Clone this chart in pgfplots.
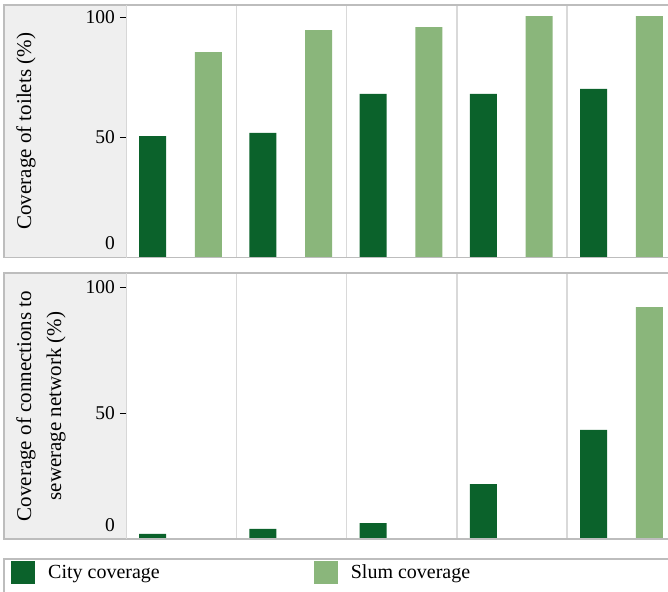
\documentclass[border=0pt]{standalone}
\usepackage{fontspec}
\setmainfont{Liberation Serif}
\usepackage{pgfplots}
\pgfplotsset{compat=1.18}
\definecolor{city}{HTML}{0B622B}
\definecolor{slum}{HTML}{8AB67B}
\definecolor{panel}{HTML}{EFEFEF}
\definecolor{framec}{HTML}{BDBDBD}
\definecolor{sepc}{HTML}{D9D9D9}
\pgfplotsset{
  sq legend/.style={legend image code/.code={\fill[##1] (0bp,-11.5bp) rectangle (24bp,11.5bp);}},
  panelaxis/.style={
    scale only axis, width=551.25bp, xmin=0, xmax=5, ymin=0,
    axis line style={draw=none},
    xtick={1,2,3,4}, xticklabels={}, xmajorgrids,
    major x grid style={sepc, line width=1.5bp},
    x tick style={draw=none},
    ytick={50,100}, extra y ticks={0},
    extra y tick style={yticklabel style={yshift=14bp}, tick style={framec, line width=1.5bp}},
    tick align=outside, major tick length=6bp,
    y tick style={black, line width=0.8bp},
    yticklabel style={font=\fontsize{19.5bp}{22bp}\selectfont, inner sep=0pt, xshift=-5bp},
    /pgf/number format/assume math mode=true,
    ylabel style={font=\fontsize{21bp}{30bp}\selectfont, anchor=center, align=center},
  }
}
\begin{document}
\begin{tikzpicture}[x=1bp,y=1bp]
\path[use as bounding box] (0bp,0bp) rectangle (668bp,-592bp);
\clip (0bp,0bp) rectangle (668bp,-592bp);
% top panel background
\fill[panel] (4bp,-5bp) rectangle (126bp,-257.5bp);
\begin{axis}[panelaxis, at={(126bp,-257.5bp)}, anchor=south west,
  height=252.5bp, ymax=105,
  ylabel={Coverage of toilets (\%)},
  ylabel style={at={(axis description cs:-0.1814,0.5)}}]
\addplot[ybar, bar width=27bp, bar shift=0pt, fill=city, draw=none]
  coordinates {(0.241,50.5) (1.241,51.8) (2.241,68.0) (3.241,68.0) (4.241,70.1)};
\addplot[ybar, bar width=27bp, bar shift=0pt, fill=slum, draw=none]
  coordinates {(0.748,85.4) (1.748,94.6) (2.748,95.8) (3.748,100.4) (4.748,100.4)};
\end{axis}
\draw[framec, line width=1.5bp] (4bp,-5bp) rectangle (690bp,-257.5bp);
\draw[framec!60, line width=1bp] (126bp,-5bp) -- (126bp,-257.5bp);
% bottom panel
\fill[panel] (4bp,-273bp) rectangle (126bp,-539bp);
\begin{axis}[panelaxis, at={(126bp,-539bp)}, anchor=south west,
  height=266bp, ymax=105.6,
  ylabel={Coverage of connections to\\sewerage network (\%)},
  ylabel style={at={(axis description cs:-0.1542,0.5)}},
  legend columns=2,
  legend style={at={(axis description cs:-0.2086,-0.126)}, anchor=west,
    draw=none, fill=none, inner sep=0pt,
    nodes={inner sep=0pt, font=\fontsize{20bp}{22bp}\selectfont},
    /tikz/every odd column/.style={column sep=13bp},
    /tikz/every even column/.style={column sep=154bp}},
  legend cell align=left]
\addplot[ybar, bar width=27bp, bar shift=0pt, fill=city, draw=none, sq legend]
  coordinates {(0.241,2.0) (1.241,4.0) (2.241,6.3) (3.241,21.8) (4.241,43.3)};
\addlegendentry{City coverage}
\addplot[ybar, bar width=27bp, bar shift=0pt, fill=slum, draw=none, sq legend]
  coordinates {(0.748,0) (1.748,0) (2.748,0) (3.748,0) (4.748,92.1)};
\addlegendentry{Slum coverage}
\end{axis}
\draw[framec, line width=1.5bp] (4bp,-273bp) rectangle (690bp,-539bp);
\draw[framec!60, line width=1bp] (126bp,-273bp) -- (126bp,-539bp);
% legend frame
\draw[framec, line width=1.5bp] (4bp,-559bp) rectangle (690bp,-610bp);
\end{tikzpicture}
\end{document}
